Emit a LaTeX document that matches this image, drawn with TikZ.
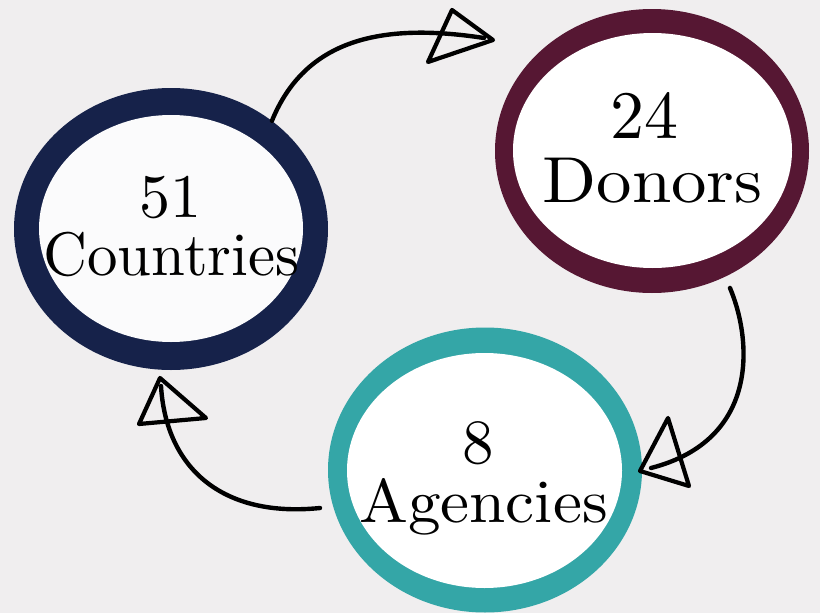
\documentclass[tikz,border=0pt]{standalone}
\usepackage{fontspec}
\setmainfont{lmroman10-regular}[Extension=.otf]
\usetikzlibrary{shapes.geometric}
\definecolor{bgc}{HTML}{F0EEEF}
\definecolor{navyring}{HTML}{16224A}
\definecolor{maroonring}{HTML}{561733}
\definecolor{tealring}{HTML}{34A6A7}
\definecolor{offwhite}{HTML}{FBFBFC}
\begin{document}
\begin{tikzpicture}[x=1pt,y=-1pt,
  ring/.style={ellipse, inner sep=0pt, draw=none},
  lbl/.style={anchor=base, inner sep=0pt, text=black},
  brush/.style={line width=4.4pt, line cap=round, line join=round, draw=black},
  headtri/.style={line width=4.2pt, line join=round, draw=black}]
\fill[bgc] (0,0) rectangle (820,613);
\useasboundingbox (0,0) rectangle (820,613);
% Countries
\node[ring, fill=navyring, minimum width=314pt, minimum height=282pt] (countriesO) at (171,229) {};
\node[ring, fill=offwhite, minimum width=264pt, minimum height=227pt] (countries) at (171,228.5) {};
\node[lbl, font=\fontsize{62}{62}\selectfont] (n51) at (170,217) {51};
\node[lbl, font=\fontsize{61.5}{62}\selectfont] (tcountries) at (171.5,275) {\scalebox{0.99}[1]{Countries}};
% Donors
\node[ring, fill=maroonring, minimum width=314pt, minimum height=284pt] (donorsO) at (652,151) {};
\node[ring, fill=white, minimum width=279pt, minimum height=235pt] (donors) at (652.5,150.5) {};
\node[lbl, font=\fontsize{68}{68}\selectfont] (n24) at (644.5,138) {24};
\node[lbl, font=\fontsize{65}{66}\selectfont] (tdonors) at (652.5,202) {\scalebox{1.09}[1]{Donors}};
% Agencies
\node[ring, fill=tealring, minimum width=314pt, minimum height=285pt] (agenciesO) at (485,470) {};
\node[ring, fill=white, minimum width=275pt, minimum height=235pt] (agencies) at (484.5,470.5) {};
\node[lbl, font=\fontsize{63}{63}\selectfont] (n8) at (478.5,463) {8};
\node[lbl, font=\fontsize{61.5}{62}\selectfont] (tagencies) at (483.5,522) {\scalebox{1.06}[1]{Agencies}};
% Arrow 1: Countries -> Donors
\coordinate (a1s) at (countriesO.47);
\coordinate (a1e) at (484,38);
\coordinate (h1a) at (493,40);
\coordinate (h1b) at (452,10);
\coordinate (h1c) at (428,62);
\draw[brush] (a1s) .. controls (305,40) and (380,22) .. (a1e);
\draw[headtri] (h1a) -- (h1b) -- (h1c) -- cycle;
% Arrow 2: Donors -> Agencies
\coordinate (a2s) at (730,288);
\coordinate (a2e) at (651,468);
\coordinate (h2a) at (640,471);
\coordinate (h2b) at (668,418);
\coordinate (h2c) at (689,486);
\draw[brush] (a2s) .. controls (752,340) and (760,440) .. (a2e);
\draw[headtri] (h2a) -- (h2b) -- (h2c) -- cycle;
% Arrow 3: Agencies -> Countries
\coordinate (a3s) at (320,508);
\coordinate (a3e) at (161,386);
\coordinate (h3a) at (160,378);
\coordinate (h3b) at (139,424);
\coordinate (h3c) at (206,418);
\draw[brush] (a3s) .. controls (222,518) and (166,468) .. (a3e);
\draw[headtri] (h3a) -- (h3b) -- (h3c) -- cycle;
\end{tikzpicture}
\end{document}
